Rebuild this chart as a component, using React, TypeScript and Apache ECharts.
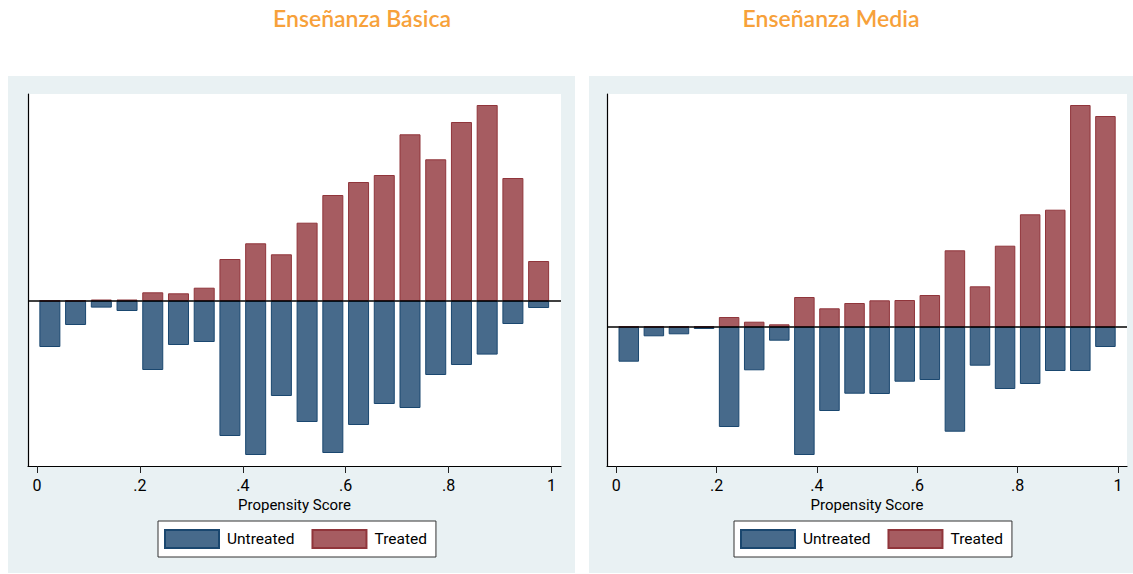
import React, { useEffect, useRef } from "react";
import * as echarts from "echarts";

// Bin centers of the propensity-score histogram (20 bins of width 0.05)
const binCenters = [
  0.025, 0.075, 0.125, 0.175, 0.225, 0.275, 0.325, 0.375, 0.425, 0.475,
  0.525, 0.575, 0.625, 0.675, 0.725, 0.775, 0.825, 0.875, 0.925, 0.975,
];

// Enseñanza Básica (relative heights)
const basicaTreated = [
  0.5, 0.5, 1.5, 1.5, 8.7, 7.7, 13.3, 42, 57.7, 46.7,
  78.3, 106, 119, 126, 166.7, 141.7, 179, 196, 123, 40,
];
const basicaUntreated = [
  46, 24, 6.6, 10, 69, 44, 41, 135, 154, 95,
  121, 152, 124, 103, 107, 74, 64, 53.6, 23, 7,
];

// Enseñanza Media
const mediaTreated = [
  0.5, 0.5, 0.5, 0.5, 10, 5.3, 2.7, 30, 18.7, 24,
  26.7, 27, 32, 76.7, 40.7, 81.3, 112.7, 117.3, 222, 211,
];
const mediaUntreated = [
  34.7, 9.3, 7.3, 2, 100, 43.3, 13.7, 128, 84, 66.7,
  67, 54.7, 53, 104.7, 38.7, 62, 57, 44, 44, 20,
];

const tickValues = [0, 0.2, 0.4, 0.6, 0.8, 1];
const tickLabels = ["0", ".2", ".4", ".6", ".8", "1"];
const panelTitles = ["Enseñanza Básica", "Enseñanza Media"];
const seriesNames = ["Untreated", "Treated"];
const xAxisTitle = "Propensity Score";

const BLUE = "#476a8b";
const BLUE_BORDER = "#1a476f";
const RED = "#a65c61";
const RED_BORDER = "#90353b";
const ORANGE = "#f7a13a";
const PANEL_BG = "#e9f1f3";
const NARROW = 'Roboto, "Liberation Sans", sans-serif';

function fmtTick(v: number) {
  for (let i = 0; i < tickValues.length; i++) {
    if (Math.abs(tickValues[i] - v) < 1e-6) return tickLabels[i];
  }
  return "";
}

const panels = [
  {
    treated: basicaTreated,
    untreated: basicaUntreated,
    grid: { left: 28, top: 94, width: 533, height: 372 },
    xMin: -0.0175,
    xMax: 1.0185,
    yMin: -165,
    yMax: 207,
    barWidth: 21,
    legendLeft: 158,
    titleCenter: 357,
  },
  {
    treated: mediaTreated,
    untreated: mediaUntreated,
    grid: { left: 607, top: 94, width: 520, height: 372 },
    xMin: -0.0184,
    xMax: 1.018,
    yMin: -139,
    yMax: 233,
    barWidth: 20.5,
    legendLeft: 734,
    titleCenter: 826,
  },
];

export default function App() {
  const ref = useRef<HTMLDivElement>(null);

  useEffect(() => {
    if (!ref.current) return;
    const chart = echarts.init(ref.current, undefined, { renderer: "svg" });

    const series: any[] = [];
    panels.forEach((p, k) => {
      series.push({
        name: seriesNames[0],
        type: "bar",
        xAxisIndex: k,
        yAxisIndex: k,
        barWidth: p.barWidth,
        barGap: "-100%",
        data: binCenters.map((x, i) => [x, -p.untreated[i]]),
        itemStyle: { color: BLUE, borderColor: BLUE_BORDER, borderWidth: 1 },
        markLine: {
          silent: true,
          symbol: ["none", "none"],
          label: { show: false },
          lineStyle: { color: "#000", width: 1.5, type: "solid" },
          data: [{ yAxis: 0 }],
        },
      });
      series.push({
        name: seriesNames[1],
        type: "bar",
        xAxisIndex: k,
        yAxisIndex: k,
        barWidth: p.barWidth,
        barGap: "-100%",
        data: binCenters.map((x, i) => [x, p.treated[i]]),
        itemStyle: { color: RED, borderColor: RED_BORDER, borderWidth: 1 },
      });
    });

    const titleStyle = {
      color: ORANGE,
      fontSize: 23,
      fontWeight: 600,
      fontFamily: "Lato, 'Open Sans', sans-serif",
    };

    chart.setOption({
      animation: false,
      title: panels.map((p, k) => ({
        text: panelTitles[k],
        left: p.titleCenter,
        top: 1,
        textAlign: "center",
        textStyle: titleStyle,
      })),
      graphic: [
        { type: "rect", z: -10, shape: { x: 8, y: 76, width: 567, height: 497 }, style: { fill: PANEL_BG } },
        { type: "rect", z: -10, shape: { x: 589, y: 76, width: 544, height: 497 }, style: { fill: PANEL_BG } },
      ],
      grid: panels.map((p) => ({
        ...p.grid,
        show: true,
        backgroundColor: "#ffffff",
        borderWidth: 0,
        containLabel: false,
      })),
      xAxis: panels.map((p, k) => ({
        type: "value",
        gridIndex: k,
        min: p.xMin,
        max: p.xMax,
        axisLine: { show: true, onZero: false, lineStyle: { color: "#000", width: 1.2 } },
        axisTick: { show: true, customValues: tickValues, length: 7, lineStyle: { color: "#222" } },
        axisLabel: {
          customValues: tickValues,
          formatter: (v: number) => fmtTick(v),
          margin: 11,
          fontSize: 16,
          color: "#000",
          fontFamily: NARROW,
        },
        splitLine: { show: false },
        name: xAxisTitle,
        nameLocation: "middle",
        nameGap: 29,
        nameTextStyle: { fontSize: 15, color: "#000", fontFamily: NARROW },
      })),
      yAxis: panels.map((p, k) => ({
        type: "value",
        gridIndex: k,
        min: p.yMin,
        max: p.yMax,
        axisLine: { show: true, onZero: false, lineStyle: { color: "#000", width: 1.2 } },
        axisTick: { show: false },
        axisLabel: { show: false },
        splitLine: { show: false },
      })),
      legend: panels.map((p) => ({
        data: seriesNames,
        left: p.legendLeft,
        top: 521,
        orient: "horizontal",
        backgroundColor: "#ffffff",
        borderColor: "#333",
        borderWidth: 1,
        borderRadius: 0,
        padding: [8, 9, 8, 6],
        itemWidth: 54,
        itemHeight: 18,
        itemGap: 17,
        selectedMode: false,
        icon: "rect",
        textStyle: {
          fontSize: 15.5,
          color: "#000",
          fontFamily: NARROW,
          padding: [0, 0, 0, 3],
          lineHeight: 18,
        },
      })),
      series,
    });

    return () => chart.dispose();
  }, []);

  return (
    <div
      ref={ref}
      style={{ position: "absolute", left: 0, top: 0, width: 1133, height: 574, background: "#ffffff" }}
    />
  );
}
